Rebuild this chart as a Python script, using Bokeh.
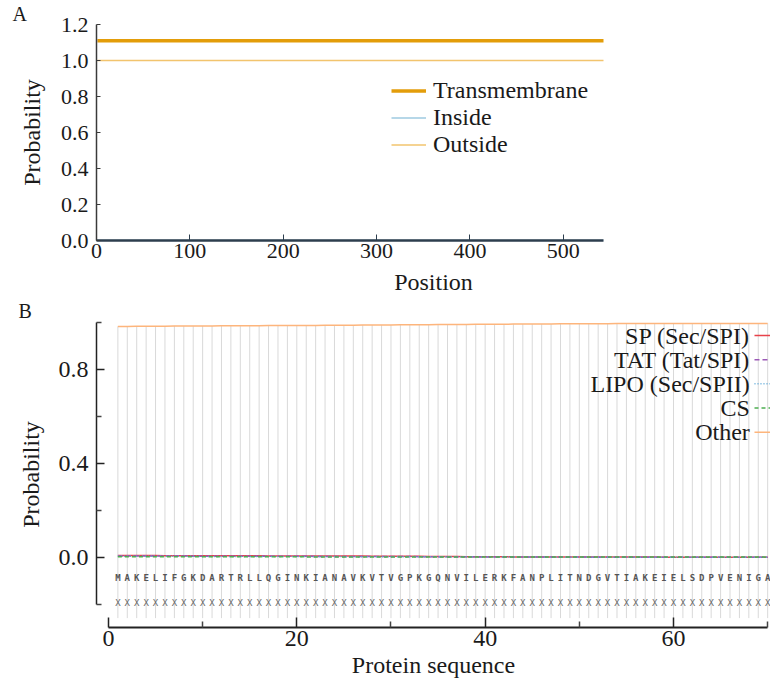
from bokeh.plotting import figure
from bokeh.layouts import column
from bokeh.models import (Range1d, FixedTicker, PrintfTickFormatter, Legend,
                          LegendItem, ColumnDataSource)
from bokeh.core.properties import value
from bokeh.embed import file_html
from bokeh.resources import INLINE

SERIF = "Liberation Serif"
INK = "#1a1a1a"

# ---------------- Panel A data (TMHMM-like) ----------------
a_pos = [1, 543]
a_transmembrane = [1.11, 1.11]
a_inside = [0.0, 0.0]
a_outside = [1.0, 1.0]
a_seq_len = 543
a_xticks = [0, 100, 200, 300, 400, 500]
a_yticks = [0.0, 0.2, 0.4, 0.6, 0.8, 1.0, 1.2]

# ---------------- Panel B data (SignalP-like) ----------------
b_seq = list("MAKELIFGKDARTRLLQGINKIANAVKVTVGPKGQNVILERKFANPLITNDGVTIAKEIELSDPVENIGA")
b_pos = list(range(1, len(b_seq) + 1))
b_cs_row = ["X"] * len(b_seq)
b_other = [0.984, 0.984, 0.985, 0.985, 0.985, 0.985, 0.986, 0.986, 0.986, 0.986,
           0.986, 0.987, 0.987, 0.987, 0.987, 0.987, 0.988, 0.988, 0.988, 0.988,
           0.988, 0.988, 0.989, 0.989, 0.989, 0.989, 0.990, 0.990, 0.990, 0.990,
           0.991, 0.991, 0.991, 0.991, 0.992, 0.992, 0.992, 0.992, 0.993, 0.993,
           0.993, 0.993, 0.994, 0.994, 0.994, 0.994, 0.994, 0.995, 0.995, 0.995,
           0.995, 0.995, 0.995, 0.996, 0.996, 0.996, 0.996, 0.996, 0.996, 0.996,
           0.997, 0.997, 0.997, 0.997, 0.997, 0.997, 0.997, 0.997, 0.997, 0.997]
b_sp = [0.007, 0.007, 0.007, 0.007, 0.007, 0.006, 0.006, 0.006, 0.006, 0.006,
        0.006, 0.006, 0.006, 0.006, 0.006, 0.006, 0.005, 0.005, 0.005, 0.005,
        0.005, 0.005, 0.005, 0.005, 0.005, 0.005, 0.005, 0.004, 0.004, 0.004,
        0.004, 0.004, 0.004, 0.003, 0.003, 0.003, 0.003, 0.002, 0.002, 0.002,
        0.002, 0.002, 0.001, 0.001, 0.001, 0.001, 0.001, 0.001, 0.001, 0.001,
        0.001, 0.001, 0.001, 0.001, 0.001, 0.001, 0.001, 0.001, 0.000, 0.000,
        0.000, 0.000, 0.000, 0.000, 0.000, 0.000, 0.000, 0.000, 0.000, 0.000]
b_tat = [0.005, 0.005, 0.005, 0.005, 0.005, 0.005, 0.005, 0.005, 0.004, 0.004,
         0.004, 0.004, 0.004, 0.004, 0.004, 0.004, 0.004, 0.004, 0.004, 0.004,
         0.004, 0.003, 0.003, 0.003, 0.003, 0.003, 0.003, 0.003, 0.003, 0.003,
         0.003, 0.003, 0.002, 0.002, 0.002, 0.002, 0.002, 0.002, 0.001, 0.001,
         0.001, 0.001, 0.001, 0.001, 0.001, 0.001, 0.001, 0.001, 0.001, 0.001,
         0.000, 0.000, 0.000, 0.000, 0.000, 0.000, 0.000, 0.000, 0.000, 0.000,
         0.000, 0.000, 0.000, 0.000, 0.000, 0.000, 0.000, 0.000, 0.000, 0.000]
b_lipo = [0.004, 0.004, 0.004, 0.004, 0.004, 0.004, 0.004, 0.004, 0.004, 0.003,
          0.003, 0.003, 0.003, 0.003, 0.003, 0.003, 0.003, 0.003, 0.003, 0.003,
          0.003, 0.003, 0.003, 0.003, 0.002, 0.002, 0.002, 0.002, 0.002, 0.002,
          0.002, 0.002, 0.002, 0.002, 0.002, 0.001, 0.001, 0.001, 0.001, 0.001,
          0.001, 0.001, 0.001, 0.001, 0.001, 0.000, 0.000, 0.000, 0.000, 0.000,
          0.000, 0.000, 0.000, 0.000, 0.000, 0.000, 0.000, 0.000, 0.000, 0.000,
          0.000, 0.000, 0.000, 0.000, 0.000, 0.000, 0.000, 0.000, 0.000, 0.000]
b_cs = [0.002, 0.002, 0.002, 0.002, 0.002, 0.002, 0.002, 0.002, 0.002, 0.002,
        0.002, 0.002, 0.002, 0.002, 0.002, 0.002, 0.002, 0.002, 0.002, 0.002,
        0.001, 0.001, 0.001, 0.001, 0.001, 0.001, 0.001, 0.001, 0.001, 0.001,
        0.001, 0.001, 0.001, 0.001, 0.001, 0.001, 0.001, 0.001, 0.001, 0.001,
        0.001, 0.001, 0.001, 0.001, 0.001, 0.001, 0.001, 0.001, 0.001, 0.001,
        0.001, 0.001, 0.001, 0.001, 0.001, 0.001, 0.001, 0.001, 0.001, 0.001,
        0.001, 0.001, 0.001, 0.001, 0.001, 0.001, 0.001, 0.001, 0.001, 0.001]
b_legend_labels = ["SP (Sec/SPI)", "TAT (Tat/SPI)", "LIPO (Sec/SPII)", "CS", "Other"]
b_major_x = [0, 20, 40, 60]
b_minor_x = [10, 30, 50, 70]
b_major_y = [0.0, 0.4, 0.8]
b_minor_y = [-0.2, 0.2, 0.6, 1.0]


def style_axes(p, tick_size, label_size):
    for ax in (p.xaxis[0], p.yaxis[0]):
        ax.axis_label_text_font = SERIF
        ax.axis_label_text_font_style = "normal"
        ax.axis_label_text_font_size = label_size
        ax.axis_label_text_color = INK
        ax.major_label_text_font = SERIF
        ax.major_label_text_font_size = tick_size
        ax.major_label_text_color = INK
    p.xgrid.visible = False
    p.ygrid.visible = False
    p.outline_line_color = None


def panel_title(p, letter, offset):
    p.title.text = letter
    p.title.align = "left"
    p.title.offset = offset
    p.title.standoff = 0
    p.title.text_font = SERIF
    p.title.text_font_style = "normal"
    p.title.text_font_size = "20px"
    p.title.text_color = INK


# ======================= Panel A =======================
pA = figure(width=770, height=297, x_range=Range1d(0, a_seq_len * 674 / 507),
            y_range=Range1d(0, 1.2),
            output_backend="svg", toolbar_location=None,
            min_border_left=96, min_border_right=0, min_border_top=21, min_border_bottom=57)
style_axes(pA, "22px", "24px")
panel_title(pA, "A", -84)
pA.xaxis.axis_label = "Position"
pA.yaxis.axis_label = "Probability"
pA.xaxis.ticker = FixedTicker(ticks=a_xticks)
pA.yaxis.ticker = FixedTicker(ticks=a_yticks)
pA.yaxis.formatter = PrintfTickFormatter(format="%.1f")
pA.xaxis.bounds = (0, a_seq_len)
for ax in (pA.xaxis[0], pA.yaxis[0]):
    ax.minor_tick_line_color = None
    ax.major_tick_out = 0
pA.xaxis.major_tick_in = 6
pA.yaxis.major_tick_in = 4
pA.xaxis.major_label_standoff = 3
pA.xaxis.axis_label_standoff = 8
pA.yaxis.major_label_standoff = 8
pA.yaxis.axis_label_standoff = 13
pA.xaxis.axis_line_color = "#2d3e4e"
pA.xaxis.axis_line_width = 2.5
pA.xaxis.major_tick_line_color = "#2d3e4e"
pA.yaxis.axis_line_color = "#3a3a3a"
pA.yaxis.axis_line_width = 1.5
pA.yaxis.major_tick_line_color = "#3a3a3a"

srcA = ColumnDataSource(dict(x=a_pos, tm=a_transmembrane, ins=a_inside, out=a_outside))
r_tm = pA.line("x", "tm", source=srcA, line_color="#e39d0a", line_width=3.5)
r_in = pA.line("x", "ins", source=srcA, line_color="#9ecae1", line_width=1.5)
r_out = pA.line("x", "out", source=srcA, line_color="#f2c46e", line_width=1.5)

legA = Legend(items=[LegendItem(label="Transmembrane", renderers=[r_tm]),
                     LegendItem(label="Inside", renderers=[r_in]),
                     LegendItem(label="Outside", renderers=[r_out])],
              location=(295, 82), orientation="vertical",
              glyph_width=35, glyph_height=27, label_height=27, label_standoff=7,
              padding=0, margin=0, spacing=0,
              border_line_color=None, background_fill_alpha=0,
              label_text_font=SERIF, label_text_font_size="24px", label_text_color=INK)
pA.add_layout(legA, "center")

# ======================= Panel B =======================
pB = figure(width=770, height=387, x_range=Range1d(-1.27, 70.3), y_range=Range1d(-0.3, 1.005),
            output_backend="svg", toolbar_location=None,
            min_border_left=96, min_border_right=0, min_border_top=21, min_border_bottom=57)
style_axes(pB, "24px", "24px")
panel_title(pB, "B", -78)
pB.xaxis.axis_label = "Protein sequence"
pB.yaxis.axis_label = "Probability"
pB.xaxis.ticker = FixedTicker(ticks=b_major_x, minor_ticks=b_minor_x)
pB.yaxis.ticker = FixedTicker(ticks=b_major_y, minor_ticks=b_minor_y)
pB.yaxis.formatter = PrintfTickFormatter(format="%.1f")
pB.xaxis.bounds = (0, 70)
pB.yaxis.bounds = (-0.2, 1.0)
pB.xaxis.major_tick_in = 10
pB.xaxis.minor_tick_in = 6
pB.yaxis.major_tick_in = 8
pB.yaxis.minor_tick_in = 5
for ax in (pB.xaxis[0], pB.yaxis[0]):
    ax.major_tick_out = 0
    ax.minor_tick_out = 0
    ax.axis_line_color = "#222222"
    ax.major_tick_line_color = "#222222"
    ax.minor_tick_line_color = "#444444"
    ax.major_tick_line_width = 1.5
    ax.minor_tick_line_width = 1.5
pB.xaxis.axis_line_width = 2
pB.yaxis.axis_line_width = 1.5
pB.xaxis.major_label_standoff = 3
pB.xaxis.axis_label_standoff = 3
pB.yaxis.major_label_standoff = 8
pB.yaxis.axis_label_standoff = 12

srcB = ColumnDataSource(dict(x=b_pos, aa=b_seq, cs=b_cs_row, other=b_other, sp=b_sp,
                             tat=b_tat, lipo=b_lipo, csp=b_cs))
# residue guide lines
pB.segment(x0="x", y0=-0.26, x1="x", y1="other", source=srcB,
           line_color="#d9d9d9", line_width=1)
# sequence rows
pB.text(x="x", y=-0.09, text="aa", source=srcB, text_align="center", text_baseline="middle",
        text_font=value("DejaVu Sans Mono"), text_font_size="9px", text_font_style="bold",
        text_color="#555555")
pB.text(x="x", y=-0.195, text="cs", source=srcB, text_align="center", text_baseline="middle",
        text_font=value("DejaVu Sans Mono"), text_font_size="9px", text_color="#666666")

colors = ["#e8424a", "#9b59b6", "#5aa7d8", "#4caf50", "#fdb57c"]
dashes = ["solid", "5 3", "1 2", "4 3", "solid"]
cols = ["sp", "tat", "lipo", "csp", "other"]
for c, col, dsh in zip(cols, colors, dashes):
    pB.line("x", c, source=srcB, line_color=col, line_width=1.5, line_dash=dsh)

# legend (labels right-aligned, line samples at the right edge)
leg_y = [0.945 - 0.103 * i for i in range(len(b_legend_labels))]
legsrc = ColumnDataSource(dict(y=leg_y, lab=b_legend_labels, xt=[68.1] * len(leg_y)))
pB.text(x="xt", y="y", text="lab", source=legsrc, text_align="right", text_baseline="middle",
        text_font=value(SERIF), text_font_size="24px", text_color=INK)
for i in range(len(b_legend_labels)):
    pB.segment(x0=68.6, y0=leg_y[i], x1=70.6, y1=leg_y[i],
               line_color=colors[i], line_width=1.5, line_dash=dashes[i])

layout = column(pA, pB, spacing=0)
open("out.html", "w").write(file_html(layout, INLINE))
